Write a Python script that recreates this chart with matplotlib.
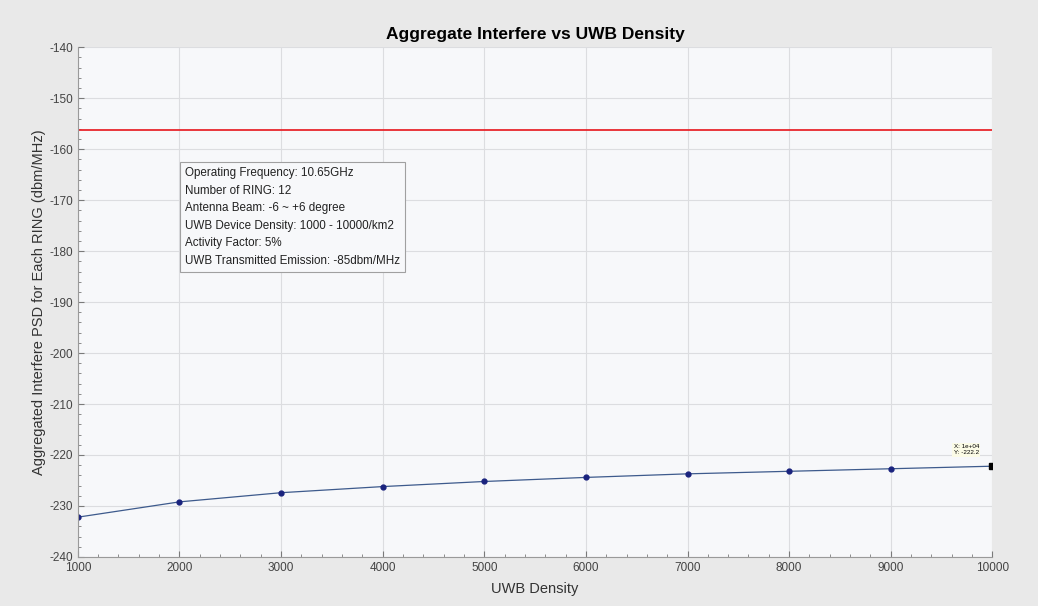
import numpy as np
import matplotlib
matplotlib.use('Agg')
import matplotlib.pyplot as plt
from matplotlib.ticker import MultipleLocator

# datos
densidad = [1000, 2000, 3000, 4000, 5000, 6000, 7000, 8000, 9000, 10000]
psd = [-232.2, -229.2, -227.4, -226.2, -225.2, -224.4, -223.7, -223.2, -222.7, -222.2]
limite = -156.3

info = ['Operating Frequency: 10.65GHz',
        'Number of RING: 12',
        'Antenna Beam: -6 ~ +6 degree',
        'UWB Device Density: 1000 - 10000/km2',
        'Activity Factor: 5%',
        'UWB Transmitted Emission: -85dbm/MHz']

plt.rcParams['font.family'] = ['Liberation Sans', 'DejaVu Sans']
plt.rcParams['axes.unicode_minus'] = False

fig = plt.figure(figsize=(10.38, 6.06), dpi=100)
fig.patch.set_facecolor('#e9e9e9')
ax = fig.add_axes([0.075, 0.081, 0.881, 0.841])
ax.set_facecolor('#f7f8fa')

ax.axhline(limite, color='#e8262c', lw=1.3)
ax.plot(densidad, psd, color='#3d5a8c', lw=0.9, marker='o', ms=3.5,
        mfc='#1a237e', mec='#1a237e')
ax.plot(densidad[-1], psd[-1], 's', color='black', ms=5)
ax.text(densidad[-1] - 380, psd[-1] + 3.2,
        'X: 1e+04\nY: -222.2', fontsize=4.5, ha='left', va='center',
        bbox=dict(facecolor='#fbfbe6', edgecolor='none', pad=1))

ax.set_xlim(1000, 10000)
ax.set_ylim(-240, -140)
ax.xaxis.set_major_locator(MultipleLocator(1000))
ax.yaxis.set_major_locator(MultipleLocator(10))
ax.xaxis.set_minor_locator(MultipleLocator(200))
ax.yaxis.set_minor_locator(MultipleLocator(2))
ax.grid(True, which='major', color='#dcdde0', lw=0.8)
ax.tick_params(which='both', direction='in', colors='#7a7a7a', labelcolor='#444444',
               labelsize=8.5)
ax.tick_params(which='major', length=4)
ax.tick_params(which='minor', length=2)
for s in ['top', 'right']:
    ax.spines[s].set_visible(False)
for s in ['left', 'bottom']:
    ax.spines[s].set_color('#9a9a9a')

ax.set_title('Aggregate Interfere vs UWB Density', fontsize=12.5,
             fontweight='bold', pad=6)
ax.set_xlabel('UWB Density', fontsize=10.5, color='#333333', labelpad=6)
ax.set_ylabel('Aggregated Interfere PSD for Each RING (dbm/MHz)', fontsize=10.5,
              color='#333333', labelpad=2)

ax.text(0.117, 0.765, '\n'.join(info), transform=ax.transAxes, fontsize=8.4,
        va='top', ha='left', linespacing=1.62, color='#222222',
        bbox=dict(facecolor='#f7f8fa', edgecolor='#a0a0a0', lw=0.8,
                  boxstyle='square,pad=0.45'))

plt.savefig('out.png', dpi=100, facecolor=fig.get_facecolor())
